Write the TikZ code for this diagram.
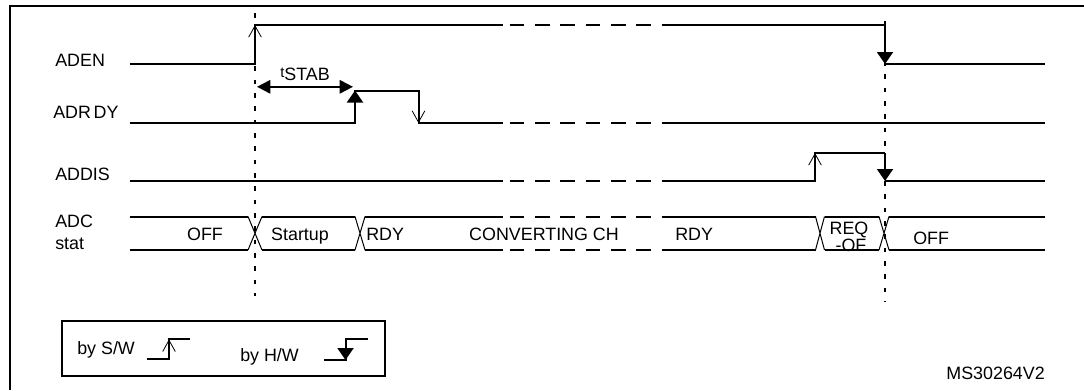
\documentclass[tikz,border=0pt]{standalone}
\usepackage{fontspec}
\setmainfont{Liberation Sans}
\usetikzlibrary{arrows.meta}
\tikzset{
  wave/.style={line width=1.5pt},
  wavedash/.style={line width=1.5pt, dash pattern=on 11pt off 8pt, dash phase=14pt},
  txt/.style={inner sep=0pt, text height=9.6pt, text depth=0pt},
}

\begin{document}
\begin{tikzpicture}[x=0.75pt, y=-0.75pt, font=\fontsize{13.4}{15}\selectfont]
  \tikzset{
    cross/.style={line width=0.75pt},
    marker/.style={line width=1.5pt, dash pattern=on 3.5pt off 6.5pt},
    frame/.style={line width=1.5pt},
    swtip/.style={-{Straight Barb[length=8.5pt, width=9.5pt, line width=0.6pt]}},
    hwtip/.style={-{Triangle[length=9pt, width=12pt]}},
    siglabel/.style={txt, anchor=west},
  }
  \useasboundingbox (0,0) rectangle (1084,390);

  % Frame
  \draw[frame] (10.3,390) -- (10.3,6.2) -- (1084,6.2);

  % Labels
  \node[siglabel] (aden) at (55,60) {ADEN};
  \node[siglabel] (adrdy) at (53,112) {ADR\hspace{2pt}DY};
  \node[siglabel] (addis) at (55,174) {ADDIS};
  \node[siglabel] (adc) at (55,221) {ADC};
  \node[siglabel] (stat) at (55,243) {stat};

  % ADEN
  \draw[wave] (129.5,64) -- (255,64) -- (255,25) -- (503,25);
  \draw[wavedash] (503,25) -- (665.6,25);
  \draw[wave] (665.6,25) -- (885,25);
  \draw[wave] (885,64) -- (1045,64);
  \draw[wave, swtip] (255,45) -- (255,25);
  \draw[wave, hwtip] (885,21) -- (885,64);

  % ADRDY
  \draw[wave] (129.5,123) -- (355,123) -- (355,90.5) -- (418.5,90.5) -- (418.5,123) -- (503,123);
  \draw[wavedash] (503,123) -- (665.6,123);
  \draw[wave] (665.6,123) -- (1045,123);
  \draw[wave, hwtip] (355,110) -- (355,90.5);
  \draw[wave, swtip] (418.5,105) -- (418.5,123);

  % tSTAB
  \coordinate (stabL) at (257,86.8);
  \coordinate (stabR) at (353,86.8);
  \draw[wave, {Triangle[length=10pt, width=10pt]}-{Triangle[length=10pt, width=10pt]}] (stabL) -- (stabR);
  \node[siglabel] (tstab) at (280,74) {\raisebox{2.5pt}{\fontsize{11}{12}\selectfont t}STAB};

  % ADDIS
  \draw[wave] (129.5,181) -- (503,181);
  \draw[wavedash] (503,181) -- (665.6,181);
  \draw[wave] (665.6,181) -- (815,181) -- (815,153) -- (885,153);
  \draw[wave] (885,181) -- (1045,181);
  \draw[wave, swtip] (815,170) -- (815,153);
  \draw[wave, hwtip] (885,153) -- (885,181);

  % ADC stat
  \foreach \y in {216.5, 250} {
    \draw[wave] (129.5,\y) -- (248,\y) (262,\y) -- (355,\y) (365,\y) -- (503,\y)
      (665.6,\y) -- (815.5,\y) (824.5,\y) -- (879,\y) (889,\y) -- (1045,\y);
    \draw[wavedash] (503,\y) -- (665.6,\y);
  }
  \foreach \c/\a in {255/7, 360/5, 820/4.5, 884/5}
    \draw[cross] (\c-\a,216.5) -- (\c+\a,250) (\c-\a,250) -- (\c+\a,216.5);

  \node[txt] (off1) at (205,234) {OFF};
  \node[txt] (startup) at (300,234) {Startup};
  \node[siglabel] (rdy1) at (366,234) {RDY};
  \node[txt] (conv) at (544,234) {CONVERTING CH};
  \node[siglabel] (rdy2) at (675,234) {RDY};
  \node[txt] (req) at (849,228) {REQ};
  \node[txt] (reqof) at (851,245.5) {-OF};
  \node[siglabel] (off2) at (913,238) {OFF};

  % Markers
  \draw[marker] (255,13) -- (255,296);
  \draw[marker] (885,21) -- (885,302);

  % Legend
  \draw[frame] (62,320.5) rectangle (385,376);
  \node[siglabel] (bysw) at (77,348) {by S/W};
  \draw[wave] (147,359) -- (169,359) -- (169,339.4) -- (190,339.4);
  \draw[wave, swtip] (169,352) -- (169,339.4);
  \node[siglabel] (byhw) at (240,355) {by H/W};
  \draw[wave] (324,360) -- (345.5,360) -- (345.5,339.4) -- (367.8,339.4);
  \draw[wave, hwtip] (345.5,339.4) -- (345.5,360);

  \node[txt, anchor=east] (msid) at (1045,373.5) {MS30264V2};

\end{tikzpicture}
\end{document}
